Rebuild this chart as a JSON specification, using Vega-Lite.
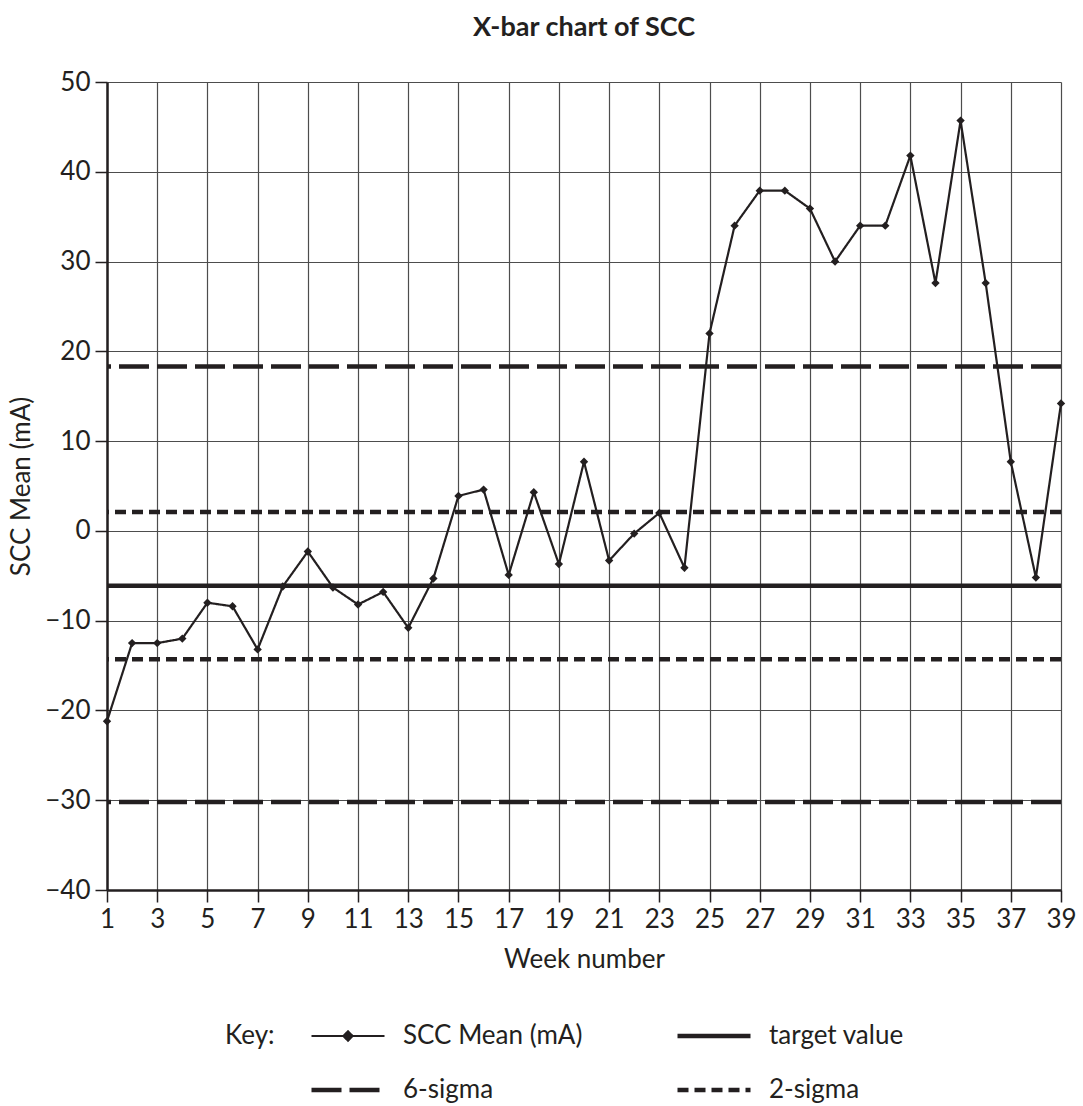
{
  "$schema": "https://vega.github.io/schema/vega-lite/v6.json",
  "width": 954,
  "height": 808,
  "autosize": {"type": "none"},
  "padding": {"left": 107, "top": 82, "right": 22, "bottom": 216},
  "background": "white",
  "title": {"text": "X-bar chart of SCC", "font": "Lato", "fontSize": 27, "fontWeight": "bold", "color": "#231f20", "anchor": "middle", "frame": "group", "baseline": "alphabetic", "offset": 6},
  "config": {"view": {"stroke": null}, "font": "Lato"},
  "datasets": {
    "weekly": [
      {"week": 1, "mean": -21.2}, {"week": 2, "mean": -12.5}, {"week": 3, "mean": -12.5},
      {"week": 4, "mean": -12.0}, {"week": 5, "mean": -8.0}, {"week": 6, "mean": -8.4},
      {"week": 7, "mean": -13.2}, {"week": 8, "mean": -6.2}, {"week": 9, "mean": -2.3},
      {"week": 10, "mean": -6.3}, {"week": 11, "mean": -8.2}, {"week": 12, "mean": -6.8},
      {"week": 13, "mean": -10.8}, {"week": 14, "mean": -5.3}, {"week": 15, "mean": 3.9},
      {"week": 16, "mean": 4.6}, {"week": 17, "mean": -4.9}, {"week": 18, "mean": 4.3},
      {"week": 19, "mean": -3.7}, {"week": 20, "mean": 7.7}, {"week": 21, "mean": -3.3},
      {"week": 22, "mean": -0.3}, {"week": 23, "mean": 2.0}, {"week": 24, "mean": -4.1},
      {"week": 25, "mean": 22.0}, {"week": 26, "mean": 34.0}, {"week": 27, "mean": 37.9},
      {"week": 28, "mean": 37.9}, {"week": 29, "mean": 35.9}, {"week": 30, "mean": 30.0},
      {"week": 31, "mean": 34.0}, {"week": 32, "mean": 34.0}, {"week": 33, "mean": 41.8},
      {"week": 34, "mean": 27.6}, {"week": 35, "mean": 45.7}, {"week": 36, "mean": 27.6},
      {"week": 37, "mean": 7.7}, {"week": 38, "mean": -5.2}, {"week": 39, "mean": 14.2}
    ],
    "limits": [
      {"label": "target value", "level": -6.1},
      {"label": "6-sigma", "level": 18.3},
      {"label": "6-sigma", "level": -30.2},
      {"label": "2-sigma", "level": 2.1},
      {"label": "2-sigma", "level": -14.3}
    ]
  },
  "layer": [
    {
      "data": {"name": "limits"},
      "mark": {"type": "rule", "stroke": "#231f20", "strokeWidth": 4.5},
      "encoding": {
        "y": {"field": "level", "type": "quantitative", "scale": {"domain": [-40, 50], "nice": false, "zero": false},
          "axis": {"title": "SCC Mean (mA)", "values": [-40, -30, -20, -10, 0, 10, 20, 30, 40, 50], "grid": true, "gridColor": "#4d4d4d", "gridWidth": 1.2,
            "domainColor": "#231f20", "domainWidth": 2.5, "tickColor": "#231f20", "tickSize": 12, "tickWidth": 1.5,
            "labelFontSize": 26, "labelColor": "#231f20", "labelPadding": 5, "labelFont": "Lato",
            "titleFontSize": 26, "titleFontWeight": "normal", "titleColor": "#231f20", "titleFont": "Lato", "titlePadding": 10}},
        "strokeDash": {"field": "label", "type": "nominal",
          "scale": {"domain": ["SCC Mean (mA)", "target value", "6-sigma", "2-sigma"], "range": [[1, 0], [1, 0], [30, 8], [11, 6]]},
          "legend": {"orient": "none", "legendX": 118, "legendY": 941, "title": "Key:", "titleOrient": "left", "titleAnchor": "start", "titleBaseline": "top", "titleFontSize": 26, "titleFontWeight": "normal", "titleColor": "#231f20", "titleFont": "Lato", "titlePadding": 60,
            "columns": 2, "direction": "horizontal", "columnPadding": 85, "rowPadding": 28, "gridAlign": "all",
            "labelFontSize": 26, "labelColor": "#231f20", "labelFont": "Lato", "labelOffset": 42, "labelLimit": 400, "symbolSize": 5329, "symbolType": "stroke", "symbolStrokeColor": "#231f20",
            "encode": {"symbols": {"update": {
              "shape": {"signal": "datum.value === 'SCC Mean (mA)' ? 'M-1,0H1M0,-0.13L0.13,0L0,0.13L-0.13,0Z' : 'stroke'"},
              "strokeWidth": {"signal": "datum.value === 'SCC Mean (mA)' ? 2 : 4.5"},
              "fill": {"value": "#231f20"},
              "stroke": {"value": "#231f20"}
            }}}}}
      }
    },
    {
      "data": {"name": "weekly"},
      "mark": {"type": "line", "stroke": "#231f20", "strokeWidth": 2.2},
      "encoding": {
        "x": {"field": "week", "type": "quantitative", "scale": {"domain": [1, 39], "nice": false, "zero": false},
          "axis": {"title": "Week number", "values": [1, 3, 5, 7, 9, 11, 13, 15, 17, 19, 21, 23, 25, 27, 29, 31, 33, 35, 37, 39], "grid": true, "gridColor": "#4d4d4d", "gridWidth": 1.2,
            "domainColor": "#231f20", "domainWidth": 2.5, "tickColor": "#231f20", "tickSize": 12, "tickWidth": 1.5,
            "labelFontSize": 26, "labelColor": "#231f20", "labelPadding": 4, "labelFont": "Lato", "labelFlush": false,
            "titleFontSize": 26, "titleFontWeight": "normal", "titleColor": "#231f20", "titleFont": "Lato", "titlePadding": 14}},
        "y": {"field": "mean", "type": "quantitative"},
        "strokeDash": {"datum": "SCC Mean (mA)"}
      }
    },
    {
      "data": {"name": "weekly"},
      "mark": {"type": "point", "shape": "diamond", "filled": true, "fill": "#231f20", "size": 70, "opacity": 1},
      "encoding": {
        "x": {"field": "week", "type": "quantitative"},
        "y": {"field": "mean", "type": "quantitative"}
      }
    }
  ]
}
